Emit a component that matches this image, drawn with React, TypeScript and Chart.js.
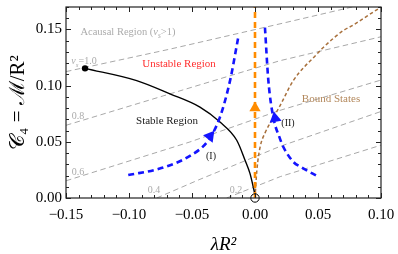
import React, { useEffect, useRef } from "react";
import { Chart, registerables } from "chart.js";

Chart.register(...registerables);

const X_MIN = -0.15;
const X_MAX = 0.1;
const Y_MIN = 0;
const Y_MAX = 0.17;
const xTickValues = [-0.15, -0.1, -0.05, 0, 0.05, 0.1];
const yTickValues = [0, 0.05, 0.1, 0.15];
const MINOR_STEP = 0.01;

// iso-v_s reference lines
const iso10X = [-0.15, -0.0675, 0.0198, 0.1];
const iso10Y = [0.1125, 0.1325, 0.155, 0.176];
const iso08X = [-0.15, -0.0675, 0.0198, 0.1];
const iso08Y = [0.0647, 0.0927, 0.1222, 0.1435];
const iso06X = [-0.15, -0.0516, 0.0198, 0.1];
const iso06Y = [0.0153, 0.0499, 0.078, 0.105];
const iso04X = [-0.078, -0.045, 0.02, 0.1];
const iso04Y = [0, 0.016, 0.046, 0.077];
const iso02X = [-0.0225, 0.02, 0.1];
const iso02Y = [0, 0.019, 0.047];

// stability boundary
const stableX = [-0.1349, -0.0939, -0.0675, -0.0437, -0.0278, -0.0145, -0.0079, -0.004, 0];
const stableY = [0.1154, 0.1045, 0.0927, 0.0809, 0.0676, 0.0514, 0.0337, 0.0219, 0.003];

// trajectory (I)
const trajIX = [-0.1006, -0.0754, -0.0516, -0.037, -0.0278, -0.0198, -0.0133];
const trajIY = [0.0204, 0.0263, 0.0375, 0.0514, 0.072, 0.1045, 0.1429];

// trajectory (II)
const trajIIX = [0.0079, 0.0106, 0.0145, 0.0198, 0.0225, 0.0304, 0.037, 0.0502];
const trajIIY = [0.1517, 0.1045, 0.072, 0.0529, 0.0454, 0.0322, 0.0272, 0.0189];

// orange vertical trajectory
const orangeX = [0, 0];
const orangeY = [0, 0.17];

// bound states curve
const boundX = [0, 0.0015, 0.004, 0.008, 0.0133, 0.0198, 0.0304, 0.049, 0.0542, 0.07, 0.0768, 0.0952, 0.1];
const boundY = [0, 0.025, 0.045, 0.058, 0.069, 0.082, 0.1045, 0.128, 0.134, 0.149, 0.1532, 0.1665, 0.17];

// markers
const endDotX = [-0.1349];
const endDotY = [0.1154];
const originX = [0];
const originY = [0];
const arrowIX = [-0.0357];
const arrowIY = [0.0549];
const arrowIIX = [0.0159];
const arrowIIY = [0.0709];
const arrowOX = [0];
const arrowOY = [0.08];

const zip = (xs: number[], ys: number[]) => xs.map((x, i) => ({ x, y: ys[i] }));

const SERIF = "'Liberation Serif', 'DejaVu Serif', serif";

type Seg = { t: string; it?: boolean; sub?: boolean };
type Note = { segs: Seg[]; x: number; y: number; color: string; size: number };

const notes: Note[] = [
  { segs: [{ t: "Acausal Region (" }, { t: "v", it: true }, { t: "s", it: true, sub: true }, { t: ">1)" }], x: -0.1008, y: 0.148, color: "#ababab", size: 10.5 },
  { segs: [{ t: "Unstable Region" }], x: -0.0603, y: 0.1196, color: "#ff3030", size: 11 },
  { segs: [{ t: "Stable Region" }], x: -0.0698, y: 0.0691, color: "#1a1a1a", size: 11 },
  { segs: [{ t: "Bound States" }], x: 0.0603, y: 0.0886, color: "#b3885c", size: 11 },
  { segs: [{ t: "(I)" }], x: -0.0349, y: 0.0381, color: "#1a1a1a", size: 10 },
  { segs: [{ t: "(II)" }], x: 0.0262, y: 0.0673, color: "#1a1a1a", size: 10 },
  { segs: [{ t: "v", it: true }, { t: "s", it: true, sub: true }, { t: "=1.0" }], x: -0.1357, y: 0.1222, color: "#ababab", size: 10 },
  { segs: [{ t: "0.8" }], x: -0.1405, y: 0.0735, color: "#ababab", size: 10 },
  { segs: [{ t: "0.6" }], x: -0.1405, y: 0.0239, color: "#ababab", size: 10 },
  { segs: [{ t: "0.4" }], x: -0.0802, y: 0.008, color: "#ababab", size: 10 },
  { segs: [{ t: "0.2" }], x: -0.0151, y: 0.008, color: "#ababab", size: 10 },
];

function drawRich(ctx: CanvasRenderingContext2D, segs: Seg[], cx: number, cy: number, size: number, color: string) {
  const fontFor = (s: Seg) => `${s.it ? "italic " : ""}${s.sub ? size * 0.7 : size}px ${SERIF}`;
  let w = 0;
  for (const s of segs) {
    ctx.font = fontFor(s);
    w += ctx.measureText(s.t).width;
  }
  let x = cx - w / 2;
  ctx.fillStyle = color;
  ctx.textBaseline = "alphabetic";
  ctx.textAlign = "left";
  for (const s of segs) {
    ctx.font = fontFor(s);
    ctx.fillText(s.t, x, cy + size * 0.35 + (s.sub ? size * 0.25 : 0));
    x += ctx.measureText(s.t).width;
  }
}

const framePlugin = {
  id: "framePlugin",
  afterDatasetsDraw(chart: any) {
    const { ctx, chartArea, scales } = chart;
    const xs = scales.x;
    const ys = scales.y;
    ctx.save();
    for (const n of notes) {
      drawRich(ctx, n.segs, xs.getPixelForValue(n.x), ys.getPixelForValue(n.y), n.size, n.color);
    }
    ctx.strokeStyle = "#222";
    ctx.lineWidth = 1.2;
    ctx.setLineDash([]);
    ctx.strokeRect(chartArea.left, chartArea.top, chartArea.right - chartArea.left, chartArea.bottom - chartArea.top);
    ctx.lineWidth = 1;
    ctx.beginPath();
    const nX = Math.round((X_MAX - X_MIN) / MINOR_STEP);
    for (let i = 0; i <= nX; i++) {
      const v = X_MIN + i * MINOR_STEP;
      const major = xTickValues.some((t) => Math.abs(t - v) < 1e-6);
      const len = major ? 5 : 3;
      const px = Math.round(xs.getPixelForValue(v)) + 0.5;
      ctx.moveTo(px, chartArea.bottom);
      ctx.lineTo(px, chartArea.bottom - len);
      ctx.moveTo(px, chartArea.top);
      ctx.lineTo(px, chartArea.top + len);
    }
    const nY = Math.round((Y_MAX - Y_MIN) / MINOR_STEP);
    for (let i = 0; i <= nY; i++) {
      const v = Y_MIN + i * MINOR_STEP;
      const major = yTickValues.some((t) => Math.abs(t - v) < 1e-6);
      const len = major ? 5 : 3;
      const py = Math.round(ys.getPixelForValue(v)) + 0.5;
      ctx.moveTo(chartArea.left, py);
      ctx.lineTo(chartArea.left + len, py);
      ctx.moveTo(chartArea.right, py);
      ctx.lineTo(chartArea.right - len, py);
    }
    ctx.stroke();
    ctx.restore();
  },
};

const fmt = (v: number) => {
  if (Math.abs(v) < 1e-9) return "0.00";
  return (v < 0 ? "\u2212" : "") + Math.abs(v).toFixed(2);
};

export default function App() {
  const ref = useRef<HTMLCanvasElement | null>(null);
  useEffect(() => {
    document.body.style.margin = "0";
    const canvas = ref.current;
    if (!canvas) return;
    const gray = {
      borderColor: "#a8a8a8",
      borderWidth: 1,
      borderDash: [5.5, 3.5],
      showLine: true,
      pointRadius: 0,
      tension: 0,
    };
    const chart = new Chart(canvas, {
      type: "scatter",
      data: {
        datasets: [
          { data: zip(arrowIX, arrowIY), pointStyle: "triangle", pointRadius: 7, rotation: 38, backgroundColor: "#1414ff", borderColor: "#1414ff", borderWidth: 0 } as any,
          { data: zip(arrowIIX, arrowIIY), pointStyle: "triangle", pointRadius: 7, rotation: -10, backgroundColor: "#1414ff", borderColor: "#1414ff", borderWidth: 0 } as any,
          { data: zip(arrowOX, arrowOY), pointStyle: "triangle", pointRadius: 6.5, rotation: 0, backgroundColor: "#ff8c00", borderColor: "#ff8c00", borderWidth: 0 } as any,
          { data: zip(endDotX, endDotY), pointRadius: 3.2, backgroundColor: "#000", borderColor: "#000", borderWidth: 0 },
          { data: zip(originX, originY), pointRadius: 4.2, backgroundColor: "rgba(0,0,0,0)", borderColor: "#000", borderWidth: 1, clip: false } as any,
          { data: zip(trajIX, trajIY), showLine: true, borderColor: "#1414ff", borderWidth: 2.6, borderDash: [6, 4], pointRadius: 0, cubicInterpolationMode: "monotone" },
          { data: zip(trajIIX, trajIIY), showLine: true, borderColor: "#1414ff", borderWidth: 2.6, borderDash: [6, 4], pointRadius: 0, cubicInterpolationMode: "monotone" },
          { data: zip(orangeX, orangeY), showLine: true, borderColor: "#ff8c00", borderWidth: 2.6, borderDash: [6, 4], pointRadius: 0 },
          { data: zip(stableX, stableY), showLine: true, borderColor: "#000", borderWidth: 1.4, pointRadius: 0, cubicInterpolationMode: "monotone" },
          { data: zip(boundX, boundY), showLine: true, borderColor: "#a8703c", borderWidth: 1.5, borderDash: [3.5, 2.5], pointRadius: 0, cubicInterpolationMode: "monotone" },
          { data: zip(iso10X, iso10Y), ...gray },
          { data: zip(iso08X, iso08Y), ...gray },
          { data: zip(iso06X, iso06Y), ...gray },
          { data: zip(iso04X, iso04Y), ...gray },
          { data: zip(iso02X, iso02Y), ...gray },
        ] as any,
      },
      options: {
        animation: false,
        responsive: false,
        events: [],
        layout: { padding: { top: 6, right: 17, left: 0, bottom: 0 } },
        plugins: { legend: { display: false }, tooltip: { enabled: false } },
        scales: {
          x: {
            type: "linear",
            min: X_MIN,
            max: X_MAX,
            grid: { display: false, drawTicks: false },
            border: { display: false },
            afterBuildTicks: (s: any) => {
              s.ticks = xTickValues.map((v) => ({ value: v }));
            },
            afterFit: (s: any) => {
              s.height = 56;
              s.paddingLeft = 0;
              s.paddingRight = 0;
            },
            ticks: {
              font: { family: SERIF, size: 15 },
              color: "#000",
              padding: 8,
              maxRotation: 0,
              autoSkip: false,
              callback: (v: any) => fmt(Number(v)),
            },
            title: { display: true, text: "\u03bbR\u00b2", font: { family: SERIF, size: 19, style: "italic", lineHeight: 1.0 }, color: "#000", padding: 0 },
          },
          y: {
            type: "linear",
            min: Y_MIN,
            max: Y_MAX,
            grid: { display: false, drawTicks: false },
            border: { display: false },
            afterBuildTicks: (s: any) => {
              s.ticks = yTickValues.map((v) => ({ value: v }));
            },
            afterFit: (s: any) => {
              s.width = 66;
              s.paddingTop = 0;
              s.paddingBottom = 0;
            },
            ticks: {
              font: { family: SERIF, size: 15 },
              color: "#000",
              padding: 4,
              autoSkip: false,
              callback: (v: any) => fmt(Number(v)),
            },
            title: { display: true, text: "\ud835\udc9e\u2084 = \u2133/R\u00b2", font: { family: SERIF, size: 21 }, color: "#000", padding: { top: 6, bottom: 0 } },
          },
        },
      } as any,
      plugins: [framePlugin],
    });
    return () => chart.destroy();
  }, []);
  return (
    <div style={{ width: 398, height: 254 }}>
      <canvas ref={ref} width={398} height={254} style={{ display: "block" }} />
    </div>
  );
}
